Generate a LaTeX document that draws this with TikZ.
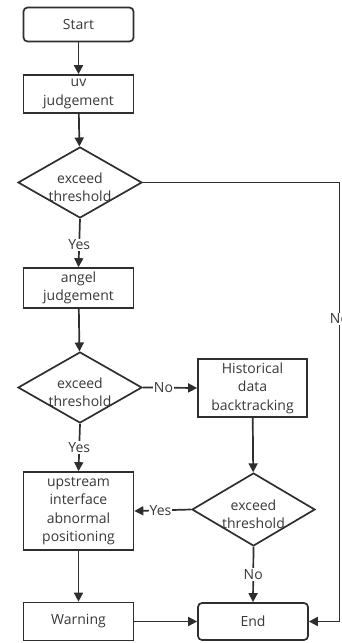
\documentclass[tikz,border=0pt]{standalone}
\usepackage{fontspec}
\setmainfont{Open Sans}
\usetikzlibrary{arrows.meta,shapes.geometric}
\definecolor{ln}{HTML}{2E2E2E}
\definecolor{tx}{HTML}{383838}
\begin{document}
\begin{tikzpicture}[x=1pt,y=-1pt,
  every node/.style={font=\fontsize{14}{18.5}\selectfont, text=tx},
  box/.style={draw=ln, line width=1.7pt, minimum width=110pt, inner sep=0pt, align=center},
  rbox/.style={box, rounded corners=4pt},
  dia/.style={draw=ln, line width=1.7pt, diamond, minimum width=124pt, minimum height=71pt, inner sep=0pt},
  txt/.style={align=center, inner sep=0pt},
  lab/.style={fill=white, inner sep=1pt},
  conn/.style={draw=ln, line width=1.7pt, -{Triangle[length=9pt,width=9pt]}}]
\useasboundingbox (0,0) rectangle (342,643);
\node[rbox, minimum height=34pt] (start) at (78.5,24.5) {Start};
\node[box, minimum height=38pt] (uv) at (78.5,94) {uv\\judgement};
\node[dia] (d1) at (80,182.5) {};
\node[txt] (d1t) at (80,187) {exceed\\threshold};
\node[box, minimum height=40pt] (ang) at (78.5,288) {angel\\judgement};
\node[dia] (d2) at (80,387.5) {};
\node[txt] (d2t) at (80,392) {exceed\\threshold};
\node[box, minimum height=58pt, minimum width=109pt] (hist) at (252.5,388) {Historical\\data\\backtracking};
\node[dia, minimum width=123pt, minimum height=73pt] (d3) at (253.5,509.5) {};
\node[txt] (d3t) at (253.5,514) {exceed\\threshold};
\node[box, minimum height=78pt] (up) at (78.5,511) {upstream\\interface\\abnormal\\positioning};
\node[box, minimum height=38pt] (warn) at (78.5,621.5) {Warning};
\node[rbox, minimum height=37pt] (end) at (253,621.5) {End};
\coordinate (c1) at (339.5,182.5);
\coordinate (c2) at (339.5,621.5);
\draw[conn] (start) -- (uv);
\draw[conn] (uv) -- (d1);
\draw[conn] (d1.south) -- node[lab, pos=0.54] (y1) {Yes} (ang.north);
\draw[conn] (d1.east) -- (c1) -- node[lab, pos=0.31] (n1) {No} (c2) -- (end.east);
\draw[conn] (ang) -- (d2);
\draw[conn] (d2.east) -- node[lab, pos=0.38] (n2) {No} (hist.west);
\draw[conn] (d2.south) -- node[lab, pos=0.5] (y2) {Yes} (up.north);
\draw[conn] (hist) -- (d3);
\draw[conn] (d3.west) -- node[lab, pos=0.54] (y3) {Yes} (up.east);
\draw[conn] (d3.south) -- node[lab, pos=0.5] (n3) {No} (end.north);
\draw[conn] (up) -- (warn);
\draw[conn] (warn) -- (end);
\end{tikzpicture}
\end{document}
